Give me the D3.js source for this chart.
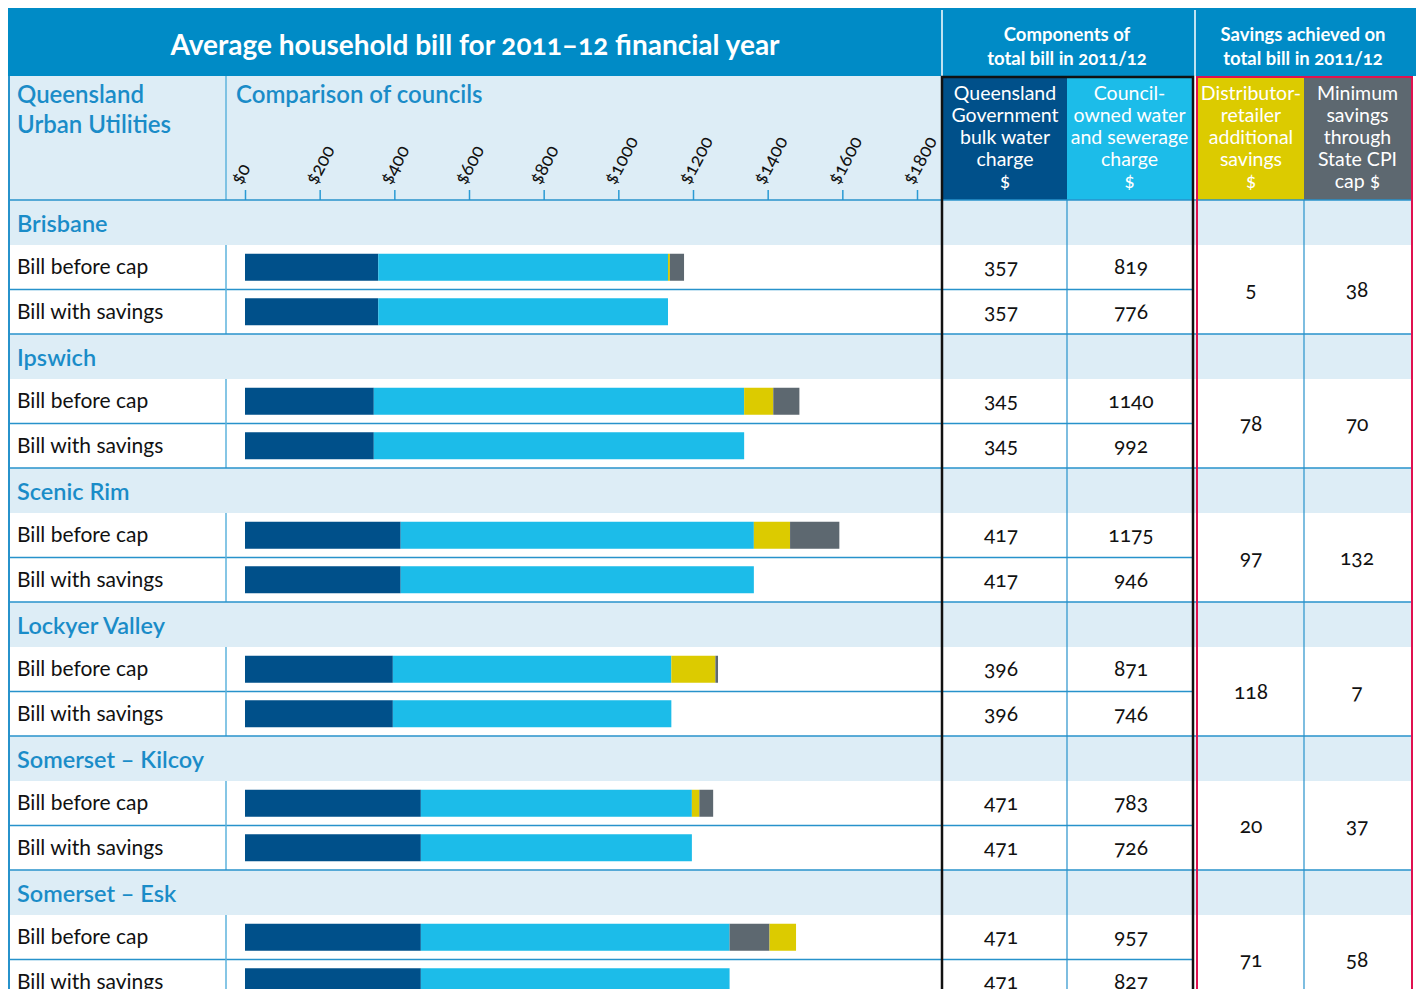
<!DOCTYPE html>
<html>
<head>
<meta charset="utf-8">
<script src="https://cdn.jsdelivr.net/npm/d3@7"></script>
<style>
body { margin: 0; background: #fff; }
svg text { font-family: Lato, "Open Sans", sans-serif; font-variant-numeric: oldstyle-nums; }
</style>
</head>
<body>
<svg id="chart" width="1418" height="989"></svg>
<script>
// councils and values (table columns)
var councils = ["Brisbane", "Ipswich", "Scenic Rim", "Lockyer Valley", "Somerset – Kilcoy", "Somerset – Esk"];
var bulk = [357, 345, 417, 396, 471, 471];
var councilBefore = [819, 1140, 1175, 871, 783, 957];
var councilAfter = [776, 992, 946, 746, 726, 827];
var distSavings = [5, 78, 97, 118, 20, 71];
var cpiSavings = [38, 70, 132, 7, 37, 58];
// the grey segment of the Esk bar is drawn longer and before the yellow one
var barCpi = [38, 70, 132, 7, 37, 107];
var cpiFirst = [false, false, false, false, false, true];
var rowLabels = ["Bill before cap", "Bill with savings"];
var tickValues = [0, 200, 400, 600, 800, 1000, 1200, 1400, 1600, 1800];

var colBlue = "#008bc6", lightBlue = "#ddedf6", lineBlue = "#2792cb";
var navy = "#00508a", cyan = "#1cbce9", yellow = "#dccb00", grey = "#5d6870";

var svg = d3.select("#chart");

var x = d3.scaleLinear().domain([0, 1800]).range([245, 917]);
var groupH = 134, headH = 45, rowH = 44.5;
var yGroup = d3.scaleBand().domain(councils).range([200, 200 + groupH * councils.length]);

// top header band
svg.append("rect").attr("x", 8).attr("y", 8).attr("width", 1408).attr("height", 68).style("fill", colBlue);
svg.append("text").attr("x", 475).attr("y", 55).attr("text-anchor", "middle")
    .style("fill", "#fff").style("font-weight", "bold").style("font-size", "28px")
    .text("Average household bill for 2011–12 financial year");
[942, 1195].forEach(function(d) {
    svg.append("line").attr("x1", d).attr("x2", d).attr("y1", 10).attr("y2", 76)
        .style("stroke", "#fff").style("stroke-width", 1.5);
});
var topHeads = [{x: 1067, t: ["Components of", "total bill in 2011/12"]},
                {x: 1303, t: ["Savings achieved on", "total bill in 2011/12"]}];
topHeads.forEach(function(h) {
    h.t.forEach(function(s, i) {
        svg.append("text").attr("x", h.x).attr("y", 41 + i * 24).attr("text-anchor", "middle")
            .style("fill", "#fff").style("font-weight", "bold").style("font-size", "18.5px").text(s);
    });
});

// second header row
svg.append("rect").attr("x", 9).attr("y", 76).attr("width", 932).attr("height", 124).style("fill", lightBlue);
svg.append("line").attr("x1", 226).attr("x2", 226).attr("y1", 76).attr("y2", 200)
    .style("stroke", "#5eb3dc").style("stroke-width", 1.5);
["Queensland", "Urban Utilities"].forEach(function(s, i) {
    svg.append("text").attr("x", 17).attr("y", 103 + i * 30).style("fill", "#1a8cc8")
        .style("font-size", "24px").style("font-weight", 600).text(s);
});
svg.append("text").attr("x", 236).attr("y", 103).style("fill", "#1a8cc8")
    .style("font-size", "24px").style("font-weight", 600).text("Comparison of councils");

var colHeads = [
    {x0: 943, x1: 1067, fill: navy, t: ["Queensland", "Government", "bulk water", "charge", "$"]},
    {x0: 1067, x1: 1192, fill: cyan, t: ["Council-", "owned water", "and sewerage", "charge", "$"]},
    {x0: 1198, x1: 1304, fill: yellow, t: ["Distributor-", "retailer", "additional", "savings", "$"]},
    {x0: 1304, x1: 1411, fill: grey, t: ["Minimum", "savings", "through", "State CPI", "cap $"]}
];
colHeads.forEach(function(c) {
    svg.append("rect").attr("x", c.x0).attr("y", 77).attr("width", c.x1 - c.x0).attr("height", 123).style("fill", c.fill);
    c.t.forEach(function(s, i) {
        svg.append("text").attr("x", (c.x0 + c.x1) / 2).attr("y", 100 + i * 22).attr("text-anchor", "middle")
            .style("fill", "#fff").style("font-size", "19.5px").text(s);
    });
});

// axis
var axis = d3.axisTop(x).tickValues(tickValues).tickSize(10).tickFormat(function(d) { return "$" + d; });
var gAxis = svg.append("g").attr("transform", "translate(0,200)").call(axis);
gAxis.select(".domain").remove();
gAxis.selectAll(".tick line").style("stroke", "#2a9bd4").style("stroke-width", 1.5);
gAxis.selectAll(".tick text")
    .attr("y", 0).attr("dy", 0)
    .attr("text-anchor", "start")
    .attr("transform", "translate(-4,-14) rotate(-62)")
    .style("font-size", "19px").style("fill", "#111").style("font-family", "Lato, sans-serif");

// group rows
var groups = svg.selectAll(".group").data(councils).enter().append("g")
    .attr("class", "group")
    .attr("transform", function(d) { return "translate(0," + yGroup(d) + ")"; });

groups.append("rect").attr("x", 9).attr("y", 0).attr("width", 1403).attr("height", headH).style("fill", lightBlue);
groups.append("text").attr("x", 17).attr("y", headH / 2 + 9).style("fill", "#1a8cc8")
    .style("font-size", "23.5px").style("font-weight", 600).text(function(d) { return d; });

// horizontal lines
groups.append("line").attr("x1", 9).attr("x2", 1412).attr("y1", 0).attr("y2", 0)
    .style("stroke", lineBlue).style("stroke-width", 1.5);
groups.append("line").attr("x1", 9).attr("x2", 1193).attr("y1", headH + rowH).attr("y2", headH + rowH)
    .style("stroke", lineBlue).style("stroke-width", 1.5);
groups.append("line").attr("x1", 226).attr("x2", 226).attr("y1", headH).attr("y2", headH + 2 * rowH)
    .style("stroke", "#5eb3dc").style("stroke-width", 1.5);

rowLabels.forEach(function(lab, r) {
    groups.append("text").attr("x", 17).attr("y", headH + r * rowH + rowH / 2 + 7)
        .style("font-size", "21px").style("fill", "#111").text(lab);
});

// bars
var barH = 27;
groups.each(function(d, i) {
    var g = d3.select(this);
    var before = [[bulk[i], navy], [councilAfter[i], cyan]];
    if (cpiFirst[i]) before.push([barCpi[i], grey], [distSavings[i], yellow]);
    else before.push([distSavings[i], yellow], [barCpi[i], grey]);
    var after = [[bulk[i], navy], [councilAfter[i], cyan]];
    [before, after].forEach(function(segs, r) {
        var cum = 0;
        var yc = headH + r * rowH + rowH / 2;
        segs.forEach(function(s) {
            g.append("rect").attr("x", x(cum)).attr("width", x(cum + s[0]) - x(cum))
                .attr("y", yc - barH / 2).attr("height", barH).style("fill", s[1]);
            cum += s[0];
        });
    });

    // table values
    var vals = [[bulk[i], councilBefore[i]], [bulk[i], councilAfter[i]]];
    vals.forEach(function(v, r) {
        var yc = headH + r * rowH + rowH / 2 + 7;
        g.append("text").attr("x", 1001).attr("y", yc).attr("text-anchor", "middle")
            .style("font-size", "21px").style("fill", "#111").text(v[0]);
        g.append("text").attr("x", 1131).attr("y", yc).attr("text-anchor", "middle")
            .style("font-size", "21px").style("fill", "#111").text(v[1]);
    });
    var ym = headH + rowH + 7;
    g.append("text").attr("x", 1251).attr("y", ym).attr("text-anchor", "middle")
        .style("font-size", "21px").style("fill", "#111").text(distSavings[i]);
    g.append("text").attr("x", 1357).attr("y", ym).attr("text-anchor", "middle")
        .style("font-size", "21px").style("fill", "#111").text(cpiSavings[i]);
});

// vertical lines
svg.append("line").attr("x1", 9).attr("x2", 9).attr("y1", 76).attr("y2", 989)
    .style("stroke", lineBlue).style("stroke-width", 2);
[1067, 1304].forEach(function(d) {
    svg.append("line").attr("x1", d).attr("x2", d).attr("y1", 200).attr("y2", 989)
        .style("stroke", lineBlue).style("stroke-width", 1.2);
});
svg.append("rect").attr("x", 942).attr("y", 77).attr("width", 251).attr("height", 930)
    .style("fill", "none").style("stroke", "#111").style("stroke-width", 2.5);
svg.append("rect").attr("x", 1197).attr("y", 77).attr("width", 215).attr("height", 930)
    .style("fill", "none").style("stroke", "#e0114f").style("stroke-width", 2);
</script>
</body>
</html>
